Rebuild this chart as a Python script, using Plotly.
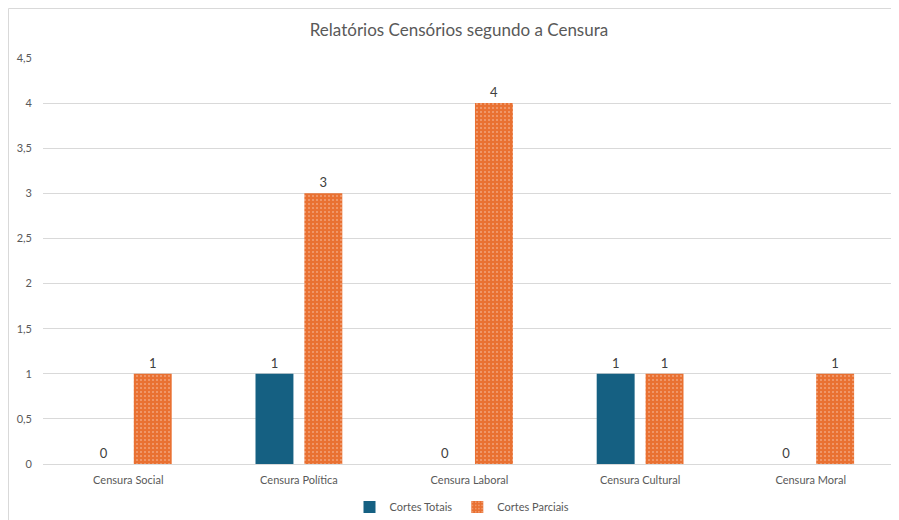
import plotly.graph_objects as go

categories = ["Censura Social", "Censura Política", "Censura Laboral", "Censura Cultural", "Censura Moral"]
cortes_totais = [0, 1, 0, 1, 0]
cortes_parciais = [1, 3, 4, 1, 1]
y_ticks = [0, 0.5, 1, 1.5, 2, 2.5, 3, 3.5, 4, 4.5]
y_tick_labels = ["0", "0,5", "1", "1,5", "2", "2,5", "3", "3,5", "4", "4,5"]

FONT = "Lato, Inter, sans-serif"
GREY = "#595959"
L, R, T, B = 35, 11, 50, 64
PW, PH = 899 - L - R, 520 - T - B

fig = go.Figure()
fig.add_trace(go.Bar(
    name="Cortes Totais", x=categories, y=cortes_totais,
    marker=dict(color="#156082", line=dict(width=0)),
    text=[str(v) for v in cortes_totais], textposition="outside",
    textfont=dict(size=13, color="#404040", family=FONT), cliponaxis=False,
))
fig.add_trace(go.Bar(
    name="Cortes Parciais", x=categories, y=cortes_parciais,
    marker=dict(color="#E97132", line=dict(width=0),
                pattern=dict(shape=".", fgcolor="rgba(255,255,255,0.7)", bgcolor="#E97132",
                             size=4, solidity=0.2, fillmode="overlay")),
    text=[str(v) for v in cortes_parciais], textposition="outside",
    textfont=dict(size=13, color="#404040", family=FONT), cliponaxis=False,
))

fig.update_layout(
    width=899, height=520,
    margin=dict(l=L, r=R, t=T, b=B, autoexpand=False),
    paper_bgcolor="white", plot_bgcolor="white",
    barmode="group", bargap=0.427, bargroupgap=0.224,
    title=dict(text="Relatórios Censórios segundo a Censura", x=451 / 899, xanchor="center",
               y=1 - 22 / 520, yanchor="middle",
               font=dict(size=17, color=GREY, family=FONT)),
    font=dict(family=FONT, color=GREY),
    xaxis=dict(showgrid=False, showline=True, linecolor="#D9D9D9", linewidth=1,
               ticks="", ticklabelstandoff=6, automargin=False,
               tickfont=dict(size=11, color=GREY)),
    yaxis=dict(range=[0, 4.5], tickvals=y_ticks, ticktext=y_tick_labels,
               showgrid=True, gridcolor="#D9D9D9", gridwidth=1, zeroline=False,
               showline=False, ticks="", automargin=False, ticklabelstandoff=10,
               tickfont=dict(size=11, color=GREY)),
    legend=dict(orientation="h", x=(454 - L) / PW, xanchor="center", y=-(507 - 464) / PH,
                yanchor="middle",
                font=dict(size=11, color=GREY, family=FONT), itemwidth=30,
                traceorder="normal"),
    showlegend=True,
    shapes=[dict(type="rect", xref="paper", yref="paper",
                 x0=(0.5 - L) / PW, x1=1.05, y0=-0.3, y1=(PH + T - 0.5) / PH,
                 line=dict(color="#D9D9D9", width=1), fillcolor="rgba(0,0,0,0)", layer="below")],
)

fig.write_html("out.html")
